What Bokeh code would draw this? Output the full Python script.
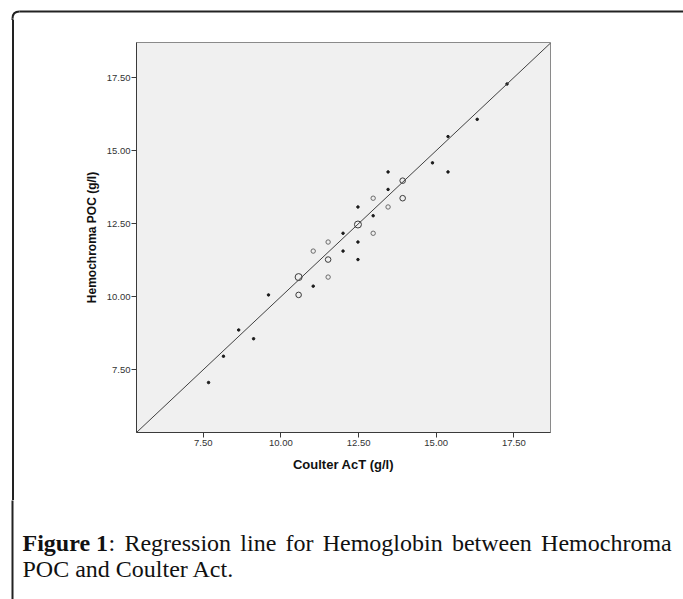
from bokeh.plotting import figure
from bokeh.layouts import column, row
from bokeh.models import (Slope, FixedTicker, NumeralTickFormatter,
                          ColumnDataSource, Range1d, Div)
from bokeh.embed import file_html
from bokeh.resources import INLINE
from bokeh.core.properties import value

# ---- data ----
coulter = [7.67, 8.15, 8.64, 9.12, 9.60, 10.57, 10.57, 11.04, 11.04, 11.52,
           11.52, 11.52, 12.00, 12.00, 12.48, 12.48, 12.48, 12.48, 12.97, 12.97,
           12.97, 13.45, 13.45, 13.45, 13.92, 13.92, 14.88, 15.38, 15.38, 16.32,
           17.28]
hemochroma = [7.06, 7.96, 8.86, 8.56, 10.06, 10.06, 10.67, 10.36, 11.56, 10.67,
              11.27, 11.87, 11.56, 12.17, 11.27, 11.87, 12.47, 13.07, 12.17, 12.77,
              13.37, 13.07, 13.67, 14.27, 13.37, 13.97, 14.58, 14.27, 15.48, 16.07,
              17.28]
counts = [1, 1, 1, 1, 1, 3, 4, 1, 2, 2,
          3, 2, 1, 1, 1, 1, 4, 1, 2, 1,
          2, 2, 1, 1, 3, 3, 1, 1, 1, 1,
          1]
tick_values = [7.5, 10.0, 12.5, 15.0, 17.5]
x_limits = [5.35, 18.68]
y_limits = [5.35, 18.70]
reg_intercept = 0.0
reg_slope = 1.0
x_title = "Coulter AcT (g/l)"
y_title = "Hemochroma POC (g/l)"
caption_line1 = ["Figure 1", ":", "Regression", "line", "for", "Hemoglobin",
                 "between", "Hemochroma"]
caption_line2 = "POC and Coulter Act."

# ---- styles ----
size_map = {1: 2.5, 2: 4.4, 3: 5.6, 4: 7.0}
line_map = {1: "#1a1a1a", 2: "#6a6a6a", 3: "#3a3a3a", 4: "#3a3a3a"}
fill_map = {1: "#1a1a1a", 2: None, 3: None, 4: None}
BG = "#f0f0f0"
FRAME = "#222222"
FW = 2

W, H = 683, 599
TOP_H = 20
STRIP_W = 20
CHART_H = 480
CAP_H = H - TOP_H - CHART_H


def blank(w, h):
    f = figure(width=w, height=h, output_backend="svg", toolbar_location=None,
               x_axis_type=None, y_axis_type=None, min_border=0,
               x_range=Range1d(0, w), y_range=Range1d(h, 0))
    f.outline_line_color = None
    f.background_fill_color = "white"
    f.border_fill_color = "white"
    return f


# ---- top strip with rounded corner of the outer frame ----
r = 7
top = blank(W, TOP_H)
top.line(x=[12 + r, W + 5], y=[11, 11], line_color=FRAME, line_width=FW)
top.quadratic(x0=[12], y0=[11 + r], x1=[12 + r], y1=[11], cx=[12], cy=[11],
              line_color=FRAME, line_width=FW)
top.line(x=[12, 12], y=[11 + r, TOP_H + 2], line_color=FRAME, line_width=FW)

# left edge of the outer frame beside the chart
left = Div(width=STRIP_W, height=CHART_H, margin=(0, 0, 0, 0),
           text=('<div style="margin:0 0 0 12px;padding:0;width:0;'
                 'height:%dpx;border-left:%dpx solid %s;"></div>'
                 % (CHART_H, FW, FRAME)))

# ---- chart ----
src = ColumnDataSource(dict(
    x=coulter, y=hemochroma,
    size=[size_map[c] for c in counts],
    lc=[line_map[c] for c in counts],
    fc=[fill_map[c] if fill_map[c] else BG for c in counts],
    fa=[1.0 if fill_map[c] else 0.0 for c in counts],
))

p = figure(width=W - STRIP_W, height=CHART_H, output_backend="svg",
           toolbar_location=None,
           x_range=Range1d(*x_limits), y_range=Range1d(*y_limits),
           min_border_left=116, min_border_right=133,
           min_border_top=22, min_border_bottom=68)
p.background_fill_color = BG
p.border_fill_color = "white"
p.outline_line_color = "#8a8a8a"
p.outline_line_width = 1
p.grid.visible = False

for ax in (p.xaxis[0], p.yaxis[0]):
    ax.ticker = FixedTicker(ticks=tick_values)
    ax.formatter = NumeralTickFormatter(format="0.00")
    ax.axis_line_color = "#3a3a3a"
    ax.axis_line_width = 1
    ax.major_tick_line_color = "#3a3a3a"
    ax.major_tick_out = 5
    ax.major_tick_in = 0
    ax.minor_tick_line_color = None
    ax.major_label_text_font = "Liberation Sans"
    ax.major_label_text_font_size = "9.5px"
    ax.major_label_text_color = "#333333"
    ax.axis_label_text_font = "Liberation Sans"
    ax.axis_label_text_font_style = "bold"
    ax.axis_label_text_color = "#111111"

p.xaxis.axis_label_text_font_size = "13px"
p.yaxis.axis_label_text_font_size = "12px"
p.xaxis.axis_label = x_title
p.yaxis.axis_label = y_title
p.xaxis.major_label_standoff = 2
p.yaxis.major_label_standoff = 1
p.xaxis.axis_label_standoff = 8
p.yaxis.axis_label_standoff = 5

p.add_layout(Slope(gradient=reg_slope, y_intercept=reg_intercept,
                   line_color="#404040", line_width=1))

p.scatter(x="x", y="y", size="size", source=src, marker="circle",
          line_color="lc", fill_color="fc", fill_alpha="fa", line_width=1)

# ---- caption ----
cap = blank(W, CAP_H)
cap.line(x=[12, 12], y=[-2, CAP_H + 2], line_color=FRAME, line_width=FW)
word_x = [22, 108, 123.9, 239.8, 285, 322.2, 451.4, 540.6]
base1, base2 = 42, 68
FS = "24px"
serif = value("Liberation Serif")
cap.text(x=word_x[:1], y=[base1], text=caption_line1[:1], text_font=serif,
         text_font_size=FS, text_font_style="bold", text_color="#111111",
         text_baseline="alphabetic", text_align="left")
cap.text(x=word_x[1:], y=[base1] * (len(word_x) - 1), text=caption_line1[1:],
         text_font=serif, text_font_size=FS, text_color="#111111",
         text_baseline="alphabetic", text_align="left")
cap.text(x=[22], y=[base2], text=[caption_line2], text_font=serif,
         text_font_size=FS, text_color="#111111",
         text_baseline="alphabetic", text_align="left")

layout = column(top, row(left, p), cap)
open("out.html", "w").write(file_html(layout, INLINE))
